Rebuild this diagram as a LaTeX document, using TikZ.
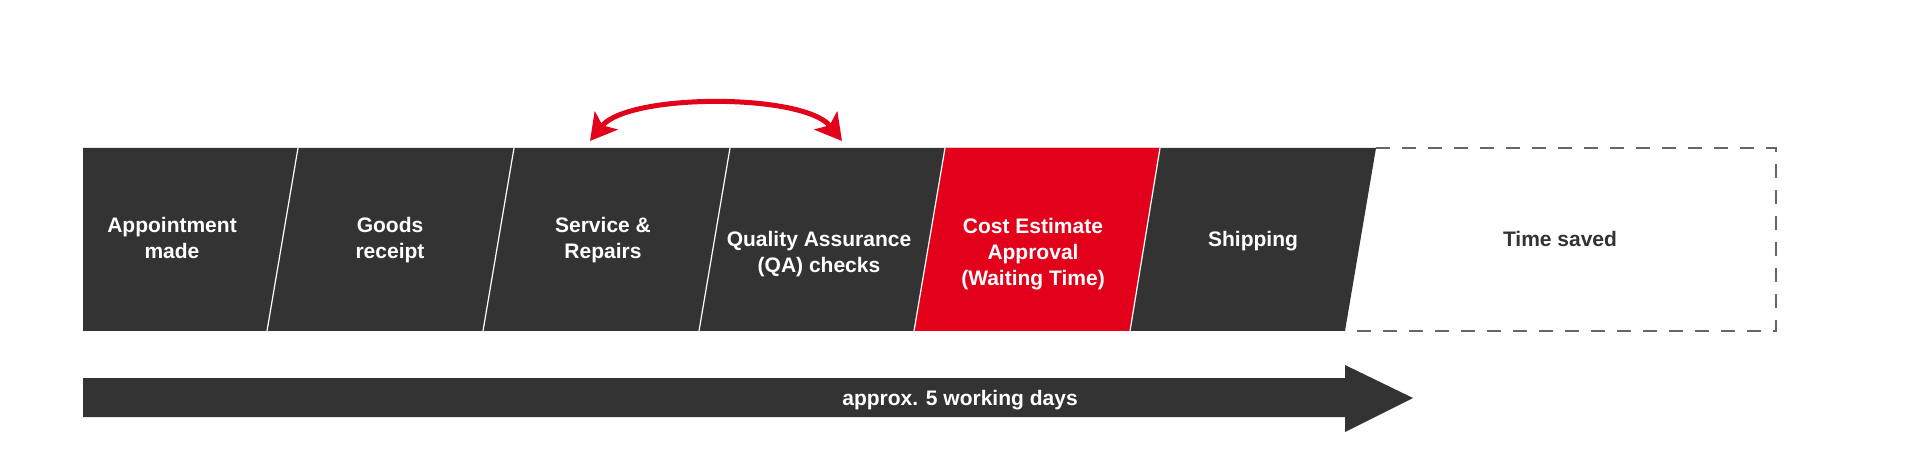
\documentclass[tikz,border=0pt]{standalone}
\usepackage{fontspec}
\setmainfont{Liberation Sans}
\usetikzlibrary{arrows.meta}
\definecolor{bardark}{HTML}{333333}
\definecolor{barred}{HTML}{E2001A}
\definecolor{dashgray}{HTML}{666666}
\begin{document}
\begin{tikzpicture}[x=1pt,y=-1pt,
	>={Stealth[length=26pt,width=29pt,inset=6pt]},
	every node/.style={inner sep=0pt,align=center,font=\fontsize{21}{26}\selectfont\bfseries},
	steplabel/.style={text=white},
	sepline/.style={white,line width=1.2pt},
	swaparrow/.style={barred,line width=5pt,<->},
	savedbox/.style={dashgray,line width=1.5pt,dash pattern=on 14pt off 12pt}]
	
	\useasboundingbox (0,0) rectangle (1920,454);
	
	% top and bottom corners of the steps
	\coordinate (t0) at (83,148);   \coordinate (b0) at (83,331);
	\coordinate (t1) at (298,148);  \coordinate (b1) at (267,331);
	\coordinate (t2) at (514,148);  \coordinate (b2) at (483,331);
	\coordinate (t3) at (730,148);  \coordinate (b3) at (699,331);
	\coordinate (t4) at (945,148);  \coordinate (b4) at (914,331);
	\coordinate (t5) at (1160,148); \coordinate (b5) at (1130,331);
	\coordinate (t6) at (1376,148); \coordinate (b6) at (1345,331);
	\coordinate (tr) at (1776,148); \coordinate (br) at (1776,331);
	
	\fill[bardark] (t0) -- (t6) -- (b6) -- (b0) -- cycle;
	\fill[barred]  (t4) -- (t5) -- (b5) -- (b4) -- cycle;
	\draw[sepline] (t1) -- (b1);
	\draw[sepline] (t2) -- (b2);
	\draw[sepline] (t3) -- (b3);
	\draw[sepline] (t4) -- (b4);
	\draw[sepline] (t5) -- (b5);
	\draw[savedbox] (t6) -- (tr) -- (br) -- (b6);
	
	\node[steplabel] (appt)     at (172,238)  {Appointment\\made};
	\node[steplabel] (goods)    at (390,240)  {Goods\\receipt};
	\node[steplabel] (service)  at (603,240)  {Service \&\\Repairs};
	\node[steplabel] (quality)  at (819,254)  {Quality Assurance\\(QA) checks};
	\node[steplabel] (cost)     at (1033,254) {Cost Estimate\\Approval\\(Waiting Time)};
	\node[steplabel] (shipping) at (1253,241) {Shipping};
	\node[text=bardark] (saved) at (1560,239) {Time saved};
	
	% loop between service and QA
	\coordinate (loopl) at (590,141);
	\coordinate (loopr) at (842,141);
	\draw[swaparrow] (loopl) .. controls (628,93) and (804,93) .. (loopr);
	
	% duration arrow
	\coordinate (d0) at (83,378);
	\coordinate (d1) at (1345,378);
	\coordinate (d2) at (1345,365);
	\coordinate (d3) at (1413,398);
	\coordinate (d4) at (1345,432);
	\coordinate (d5) at (1345,417);
	\coordinate (d6) at (83,417);
	\fill[bardark] (d0) -- (d1) -- (d2) -- (d3) -- (d4) -- (d5) -- (d6) -- cycle;
	\node[steplabel] (days) at (960,400) {approx. 5 working days};
	
\end{tikzpicture}
\end{document}
